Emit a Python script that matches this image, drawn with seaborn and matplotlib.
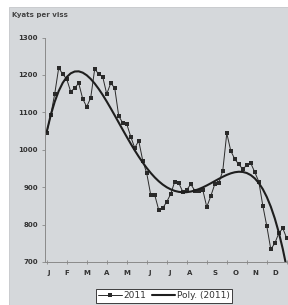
import numpy as np
import pandas as pd
import matplotlib.pyplot as plt
import seaborn as sns
from matplotlib.patches import Rectangle

# price, kyats per viss, roughly every 6 days through 2011
price_2011 = [1045, 1093, 1149, 1219, 1202, 1189, 1155, 1165, 1178, 1136,
              1115, 1139, 1216, 1202, 1195, 1149, 1178, 1165, 1090, 1072,
              1069, 1035, 1005, 1024, 971, 937, 879, 879, 839, 844,
              861, 882, 915, 911, 888, 893, 908, 891, 891, 893,
              847, 876, 908, 911, 944, 1044, 997, 975, 961, 948,
              959, 964, 940, 915, 851, 796, 734, 750, 777, 790,
              763]
months = ['J', 'F', 'M', 'A', 'M', 'J', 'J', 'A', 'S', 'O', 'N', 'D']
y_ticks = [700, 800, 900, 1000, 1100, 1200, 1300]

df = pd.DataFrame({'obs': np.arange(len(price_2011)), 'price': price_2011})
# excel style polynomial trendline
coef = np.polyfit(df['obs'], df['price'], 5)
df['poly'] = np.polyval(coef, df['obs'])

sns.set_theme(style='ticks')
plt.rcParams['font.family'] = ['DejaVu Sans']

bg = '#d5d8db'
fig = plt.figure(figsize=(2.88, 3.05), dpi=100, facecolor='white')
fig.patches.append(Rectangle((9 / 288, 0), 1, 1 - 7 / 305, transform=fig.transFigure,
                             facecolor=bg, edgecolor='#c4c7ca', lw=0.6, zorder=-10))
ax = fig.add_axes([45 / 288, 43 / 305, 243 / 288, 224.5 / 305])
ax.set_facecolor('none')

sns.lineplot(data=df, x='obs', y='price', ax=ax, color='#2a2a2a', lw=0.7,
             marker='s', markersize=2.6, markeredgewidth=0, label='2011')
sns.lineplot(data=df, x='obs', y='poly', ax=ax, color='#1e1e1e', lw=1.5,
             label='Poly. (2011)')

ax.set_xlim(-0.425, 60.3)
ax.set_ylim(700, 1300)
ax.set_yticks(y_ticks)
ax.set_yticklabels([str(v) for v in y_ticks], fontsize=5, fontweight='bold', color='#333333')
ax.xaxis.remove_overlapping_locs = False
ax.set_xticks(np.arange(0, 61, 5))
ax.set_xticklabels([])
ax.set_xticks([0.4, 5.0, 10.0, 15.0, 20.0, 25.8, 30.8, 35.8, 42.1, 47.1, 52.1, 57.1],
              labels=months, minor=True)
ax.tick_params(axis='x', which='major', direction='inout', length=3, width=0.6, color='#888888')
ax.tick_params(axis='x', which='minor', length=0, pad=6, labelsize=5, labelcolor='#333333')
for lab in ax.get_xticklabels(minor=True):
    lab.set_fontweight('bold')
ax.tick_params(axis='y', direction='out', length=2, width=0.6, color='#888888', pad=3)
sns.despine(ax=ax)
for s in ['left', 'bottom']:
    ax.spines[s].set_color('#8a8a8a')
    ax.spines[s].set_linewidth(0.7)
ax.set_xlabel('')
ax.set_ylabel('')

fig.text(12 / 288, 1 - 14.5 / 305, 'Kyats per viss', fontsize=5, fontweight='bold',
         color='#444444', va='center', ha='left')

ax.get_legend().remove()
h, l = ax.get_legend_handles_labels()
leg = fig.legend(h, l, loc='center', bbox_to_anchor=(164 / 288, 9 / 305), ncol=2,
                 fontsize=6.5, frameon=True, fancybox=False, edgecolor='#222222',
                 facecolor='white', framealpha=1, borderpad=0.25, handlelength=2.6,
                 handletextpad=0.2, columnspacing=0.6, borderaxespad=0)
leg.get_frame().set_linewidth(0.6)
for t in leg.get_texts():
    t.set_color('#333333')

fig.savefig('out.png', dpi=100, facecolor=fig.get_facecolor())
